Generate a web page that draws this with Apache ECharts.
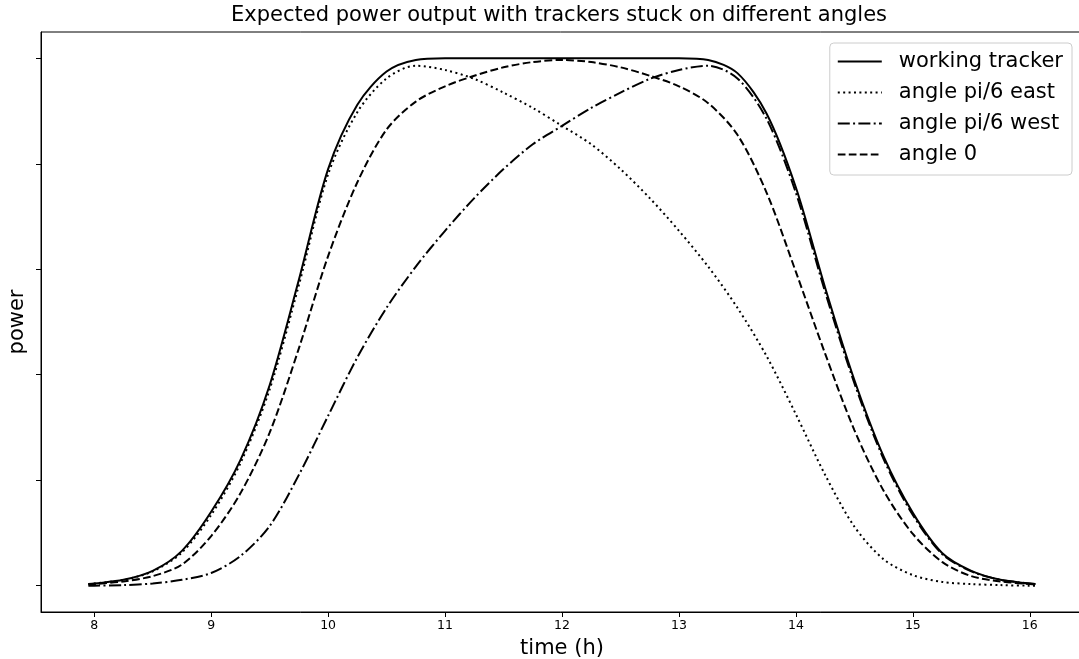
<!DOCTYPE html>
<html>
<head>
<meta charset="utf-8">
<script src="https://cdn.jsdelivr.net/npm/echarts@6/dist/echarts.min.js"></script>
<style>
  html, body { margin: 0; background: #fff; }
  #chart { width: 1079px; height: 659px; }
</style>
</head>
<body>
<div id="chart"></div>
<script>
// time of day (h)
var hours = [7.95, 8, 8.25, 8.5, 8.75, 9, 9.25, 9.5, 9.75, 10, 10.25, 10.5, 10.75, 11, 11.25, 11.5, 11.75,
             12, 12.25, 12.5, 12.75, 13, 13.25, 13.5, 13.75, 14, 14.25, 14.5, 14.75, 15, 15.25, 15.5, 15.75, 16, 16.05]

var working = [0.003, 0.004, 0.011, 0.028, 0.066, 0.140, 0.238, 0.380, 0.580, 0.790, 0.912, 0.975, 0.997, 1.0, 1.0, 1.0, 1.0,
               1.0, 1.0, 1.0, 1.0, 1.0, 0.997, 0.972, 0.895, 0.755, 0.565, 0.390, 0.245, 0.138, 0.062, 0.028, 0.011, 0.004, 0.003]

var east = [0.003, 0.004, 0.011, 0.027, 0.063, 0.134, 0.232, 0.372, 0.570, 0.780, 0.898, 0.962, 0.986, 0.978, 0.961, 0.935, 0.906,
            0.872, 0.837, 0.790, 0.735, 0.673, 0.605, 0.527, 0.435, 0.325, 0.210, 0.112, 0.050, 0.020, 0.007, 0.003, 0.001, 0.0, 0.0]

var west = [0.0, 0.0, 0.001, 0.004, 0.011, 0.024, 0.056, 0.113, 0.210, 0.322, 0.433, 0.527, 0.605, 0.673, 0.735, 0.790, 0.837,
            0.872, 0.906, 0.935, 0.961, 0.978, 0.986, 0.962, 0.885, 0.745, 0.557, 0.384, 0.240, 0.134, 0.060, 0.027, 0.011, 0.004, 0.003]

var flat = [0.002, 0.003, 0.008, 0.018, 0.040, 0.094, 0.175, 0.290, 0.450, 0.625, 0.765, 0.865, 0.918, 0.947, 0.967, 0.983, 0.993,
            0.997, 0.993, 0.983, 0.967, 0.947, 0.915, 0.855, 0.745, 0.595, 0.440, 0.295, 0.180, 0.098, 0.045, 0.018, 0.008, 0.003, 0.002]

var xTicks = [8, 9, 10, 11, 12, 13, 14, 15, 16]
var yTicks = [0, 0.2, 0.4, 0.6, 0.8, 1.0]

var font = 'DejaVu Sans'

function pairs(vals) {
    return hours.map(function (h, i) { return [h, vals[i]] })
}

function lineSeries(name, vals, dash) {
    return {
        name: name,
        type: 'line',
        symbol: 'none',
        showSymbol: false,
        smooth: 0.3,
        data: pairs(vals),
        lineStyle: { color: '#000', width: 2, type: dash },
        itemStyle: { color: '#000' }
    }
}

var chart = echarts.init(document.getElementById('chart'))
chart.setOption({
    animation: false,
    textStyle: { fontFamily: font },
    graphic: [{
        type: 'text',
        x: 559,
        y: 16,
        style: {
            text: 'Expected power output with trackers stuck on different angles',
            font: '21px "DejaVu Sans"',
            fill: '#000',
            textAlign: 'center',
            textVerticalAlign: 'middle'
        }
    }],
    grid: {
        left: 41, top: 32, width: 1042, bottom: 47,
        outerBoundsMode: 'none',
        containLabel: false,
        show: true, borderColor: '#000', borderWidth: 1
    },
    legend: {
        orient: 'vertical',
        right: 7,
        top: 43,
        itemWidth: 44,
        itemHeight: 20,
        itemGap: 10,
        padding: [8, 9, 10, 7],
        borderColor: '#cccccc',
        borderWidth: 1,
        borderRadius: 4,
        backgroundColor: 'rgba(255,255,255,0.8)',
        itemStyle: { color: 'rgba(0,0,0,0)', borderWidth: 0, opacity: 0 },
        textStyle: { fontSize: 21, color: '#000', fontFamily: font, padding: [0, 0, 0, 12], lineHeight: 20, height: 20 },
        data: ['working tracker', 'angle pi/6 east', 'angle pi/6 west', 'angle 0']
    },
    xAxis: {
        type: 'value',
        min: 7.545,
        max: 16.455,
        name: 'time (h)',
        nameLocation: 'middle',
        nameGap: 26,
        nameTextStyle: { fontSize: 21, color: '#000', fontFamily: font },
        axisLine: { show: true, onZero: false, lineStyle: { color: '#000', width: 1 } },
        axisTick: { show: true, length: 5, lineStyle: { color: '#000' }, customValues: xTicks },
        axisLabel: { customValues: xTicks, color: '#000', fontSize: 12.5, margin: 7, fontFamily: font },
        splitLine: { show: false }
    },
    yAxis: {
        type: 'value',
        min: -0.05,
        max: 1.05,
        name: 'power',
        nameLocation: 'middle',
        nameGap: 13,
        nameTextStyle: { fontSize: 21, color: '#000', fontFamily: font },
        axisLine: { show: true, onZero: false, lineStyle: { color: '#000', width: 1 } },
        axisTick: { show: true, length: 5, lineStyle: { color: '#000' }, customValues: yTicks },
        axisLabel: { show: false },
        splitLine: { show: false }
    },
    series: [
        lineSeries('working tracker', working, 'solid'),
        lineSeries('angle pi/6 east', east, [2, 3.4]),
        lineSeries('angle pi/6 west', west, [12, 3.3, 2, 3.3]),
        lineSeries('angle 0', flat, [7.7, 3.3])
    ]
})
</script>
</body>
</html>
